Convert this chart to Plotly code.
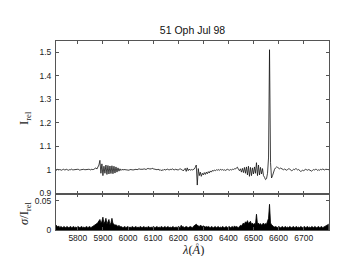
import numpy as np
import plotly.graph_objects as go

# Wavelength grid: start and step of the spectrum sampling (Angstrom)
wave_start = 5712
wave_step = 4

flux = [
    1.000, 0.998, 1.002, 0.999, 1.001, 1.000, 0.998, 1.001, 1.002, 0.999,
    1.000, 1.002, 0.999, 0.998, 1.001, 1.000, 1.003, 0.999, 1.000, 1.001,
    0.999, 1.000, 1.002, 1.001, 0.998, 1.000, 1.001, 0.999, 1.002, 1.000,
    1.001, 0.999, 1.000, 1.002, 1.001, 0.999, 1.003, 1.000, 1.002, 1.005,
    1.008, 1.003, 1.012, 1.020, 1.040, 0.985, 1.025, 0.975, 1.015, 0.985,
    1.020, 0.980, 1.018, 0.982, 1.016, 0.984, 1.017, 0.983, 1.015, 0.986,
    1.012, 0.990, 1.008, 0.994, 1.004, 0.997, 1.002, 0.999, 1.001, 1.000,
    0.999, 1.001, 1.000, 0.998, 1.001, 1.002, 1.000, 0.999, 1.001, 1.003,
    1.002, 1.000, 1.003, 1.004, 1.002, 1.001, 1.003, 1.002, 1.004, 1.003,
    1.001, 1.004, 1.006, 1.003, 1.005, 1.002, 1.007, 1.004, 1.003, 1.005,
    1.002, 1.000, 1.003, 0.998, 1.001, 0.996, 1.000, 0.997, 1.002, 0.999,
    1.000, 1.003, 1.001, 0.999, 1.002, 1.000, 1.004, 1.001, 0.999, 1.002,
    1.000, 1.001, 0.999, 1.002, 1.004, 1.001, 1.000, 0.995, 1.002, 1.006,
    0.993, 1.008, 0.996, 1.003, 0.998, 1.001, 0.999, 1.000, 1.003, 1.010,
    1.020, 0.935, 1.005, 0.975, 0.990, 0.972, 0.985, 0.978, 0.988, 0.980,
    0.990, 0.983, 0.992, 0.986, 0.995, 0.990, 0.997, 0.994, 0.999, 0.996,
    1.000, 0.998, 1.001, 0.997, 1.002, 0.999, 1.001, 0.998, 1.000, 0.997,
    0.999, 1.002, 1.000, 0.998, 1.001, 0.999, 1.002, 1.001, 1.004, 1.003,
    1.008, 1.011, 1.002, 0.996, 1.004, 0.990, 1.006, 0.988, 1.010, 0.985,
    1.012, 0.978, 1.015, 0.972, 1.010, 0.975, 1.008, 0.982, 1.012, 0.985,
    1.030, 0.975, 1.020, 0.978, 1.010, 0.982, 1.005, 0.975, 0.968, 0.958,
    0.962, 0.985, 1.050, 1.510, 1.030, 0.965, 0.975, 0.990, 1.002, 1.008,
    1.012, 1.010, 1.006, 1.004, 1.007, 1.005, 1.002, 1.000, 1.003, 1.001,
    0.998, 1.001, 1.004, 1.003, 0.999, 0.996, 0.998, 1.002, 1.000, 1.005,
    1.003, 0.999, 1.001, 0.997, 0.993, 0.995, 0.998, 0.996, 0.999, 1.002,
    1.000, 0.998, 1.001, 0.999, 0.996, 0.994, 0.998, 1.001, 0.999, 1.002,
    1.001, 0.997, 1.000, 0.998, 1.002, 1.000, 1.003, 1.001, 0.999, 1.002,
    1.000, 1.001, 1.000,
]

sigma = [
    0.009, 0.006, 0.005, 0.007, 0.004, 0.006, 0.005, 0.004, 0.006, 0.005,
    0.004, 0.006, 0.005, 0.004, 0.005, 0.006, 0.004, 0.005, 0.006, 0.004,
    0.005, 0.004, 0.006, 0.005, 0.004, 0.005, 0.006, 0.004, 0.005, 0.004,
    0.005, 0.006, 0.004, 0.005, 0.006, 0.004, 0.005, 0.006, 0.007, 0.008,
    0.009, 0.011, 0.013, 0.016, 0.018, 0.012, 0.015, 0.022, 0.011, 0.014,
    0.020, 0.010, 0.013, 0.018, 0.009, 0.012, 0.020, 0.011, 0.010, 0.008,
    0.009, 0.007, 0.006, 0.008, 0.005, 0.006, 0.005, 0.004, 0.005, 0.006,
    0.004, 0.005, 0.006, 0.004, 0.005, 0.004, 0.006, 0.005, 0.004, 0.005,
    0.006, 0.004, 0.005, 0.004, 0.006, 0.005, 0.004, 0.005, 0.006, 0.004,
    0.005, 0.004, 0.006, 0.005, 0.004, 0.005, 0.004, 0.006, 0.005, 0.004,
    0.005, 0.006, 0.004, 0.005, 0.004, 0.006, 0.005, 0.004, 0.005, 0.006,
    0.004, 0.005, 0.006, 0.004, 0.005, 0.004, 0.005, 0.006, 0.004, 0.005,
    0.005, 0.004, 0.006, 0.005, 0.004, 0.008, 0.005, 0.006, 0.004, 0.005,
    0.006, 0.005, 0.004, 0.005, 0.006, 0.005, 0.004, 0.006, 0.007, 0.009,
    0.010, 0.008, 0.007, 0.006, 0.008, 0.007, 0.006, 0.007, 0.006, 0.005,
    0.006, 0.005, 0.006, 0.005, 0.004, 0.006, 0.005, 0.004, 0.005, 0.006,
    0.004, 0.005, 0.006, 0.004, 0.005, 0.004, 0.006, 0.005, 0.004, 0.005,
    0.006, 0.004, 0.005, 0.006, 0.004, 0.005, 0.006, 0.004, 0.007, 0.005,
    0.006, 0.005, 0.004, 0.006, 0.008, 0.007, 0.009, 0.012, 0.010, 0.014,
    0.012, 0.016, 0.011, 0.013, 0.015, 0.010, 0.012, 0.009, 0.011, 0.010,
    0.027, 0.010, 0.012, 0.009, 0.011, 0.008, 0.010, 0.012, 0.009, 0.011,
    0.010, 0.014, 0.020, 0.044, 0.012, 0.009, 0.007, 0.006, 0.005, 0.006,
    0.005, 0.004, 0.006, 0.005, 0.004, 0.005, 0.006, 0.004, 0.005, 0.006,
    0.004, 0.005, 0.004, 0.006, 0.005, 0.004, 0.005, 0.006, 0.004, 0.005,
    0.006, 0.004, 0.005, 0.004, 0.006, 0.005, 0.004, 0.005, 0.006, 0.004,
    0.005, 0.006, 0.004, 0.005, 0.004, 0.006, 0.005, 0.004, 0.006, 0.005,
    0.004, 0.005, 0.006, 0.004, 0.005, 0.006, 0.004, 0.005, 0.006, 0.007,
    0.008, 0.009, 0.010,
]

x_ticks = [5800, 5900, 6000, 6100, 6200, 6300, 6400, 6500, 6600, 6700]
y_ticks_top = [0.9, 1.0, 1.1, 1.2, 1.3, 1.4, 1.5]
y_ticks_top_text = ["0.9", "1", "1.1", "1.2", "1.3", "1.4", "1.5"]
y_ticks_bot = [0, 0.05]
y_ticks_bot_text = ["0", "0.05"]

wave = wave_start + wave_step * np.arange(len(flux))

AX = "#555555"
tickfont = dict(family="Liberation Sans, Arial", size=8.5, color="#222")

fig = go.Figure()
fig.add_trace(go.Scatter(x=wave, y=flux, mode="lines",
                         line=dict(color="#111", width=0.8),
                         xaxis="x", yaxis="y", showlegend=False))
fig.add_trace(go.Scatter(x=wave, y=sigma, mode="lines", fill="tozeroy",
                         fillcolor="black", line=dict(color="black", width=0.8),
                         xaxis="x2", yaxis="y2", showlegend=False))

common_x = dict(range=[5713, 6801], tickvals=x_ticks, ticks="inside", ticklen=3,
                tickcolor=AX, showline=True, linecolor=AX, linewidth=1,
                mirror="ticks", showgrid=False, zeroline=False, tickfont=tickfont)
common_y = dict(ticks="inside", ticklen=3, tickcolor=AX, showline=True,
                linecolor=AX, linewidth=1, mirror="ticks", showgrid=False,
                zeroline=False, tickfont=tickfont, ticklabelstandoff=2)

split = 0.1905
fig.update_layout(
    width=341, height=256,
    margin=dict(l=48, r=20, t=33, b=34),
    paper_bgcolor="white", plot_bgcolor="white",
    title=dict(text="51 Oph Jul 98", x=0.5, xref="paper", y=1 - 22.7 / 256,
               yref="container", xanchor="center", yanchor="middle",
               font=dict(family="Liberation Sans, Arial", size=10.5, color="#111")),
    xaxis=dict(domain=[0, 1], anchor="y", showticklabels=False, **common_x),
    xaxis2=dict(domain=[0, 1], anchor="y2", matches="x", showticklabels=True,
                **common_x),
    yaxis=dict(domain=[split, 1], anchor="x", range=[0.897, 1.547],
               tickvals=y_ticks_top, ticktext=y_ticks_top_text, **common_y),
    yaxis2=dict(domain=[0, split], anchor="x2", range=[0, 0.0616],
                tickvals=y_ticks_bot, ticktext=y_ticks_bot_text, **common_y),
    annotations=[
        dict(text="I<sub>rel</sub>", xref="paper", yref="paper",
             x=-31 / 273, y=(222 - 110) / 189, textangle=-90, showarrow=False,
             xanchor="center", yanchor="middle",
             font=dict(family="Liberation Serif, DejaVu Serif", size=12.5, color="#222")),
        dict(text="<i>σ</i>/I<sub>rel</sub>", xref="paper", yref="paper",
             x=-31 / 273, y=(222 - 205) / 189, textangle=-90, showarrow=False,
             xanchor="center", yanchor="middle",
             font=dict(family="Liberation Serif, DejaVu Serif", size=12.5, color="#222")),
        dict(text="<i>λ</i>(<i>Å</i>)", xref="paper", yref="paper",
             x=0.5, y=-(242 - 222) / 189, showarrow=False,
             xanchor="center", yanchor="middle",
             font=dict(family="Liberation Serif, DejaVu Serif", size=12.5, color="#222")),
    ],
)

fig.write_html("out.html")
